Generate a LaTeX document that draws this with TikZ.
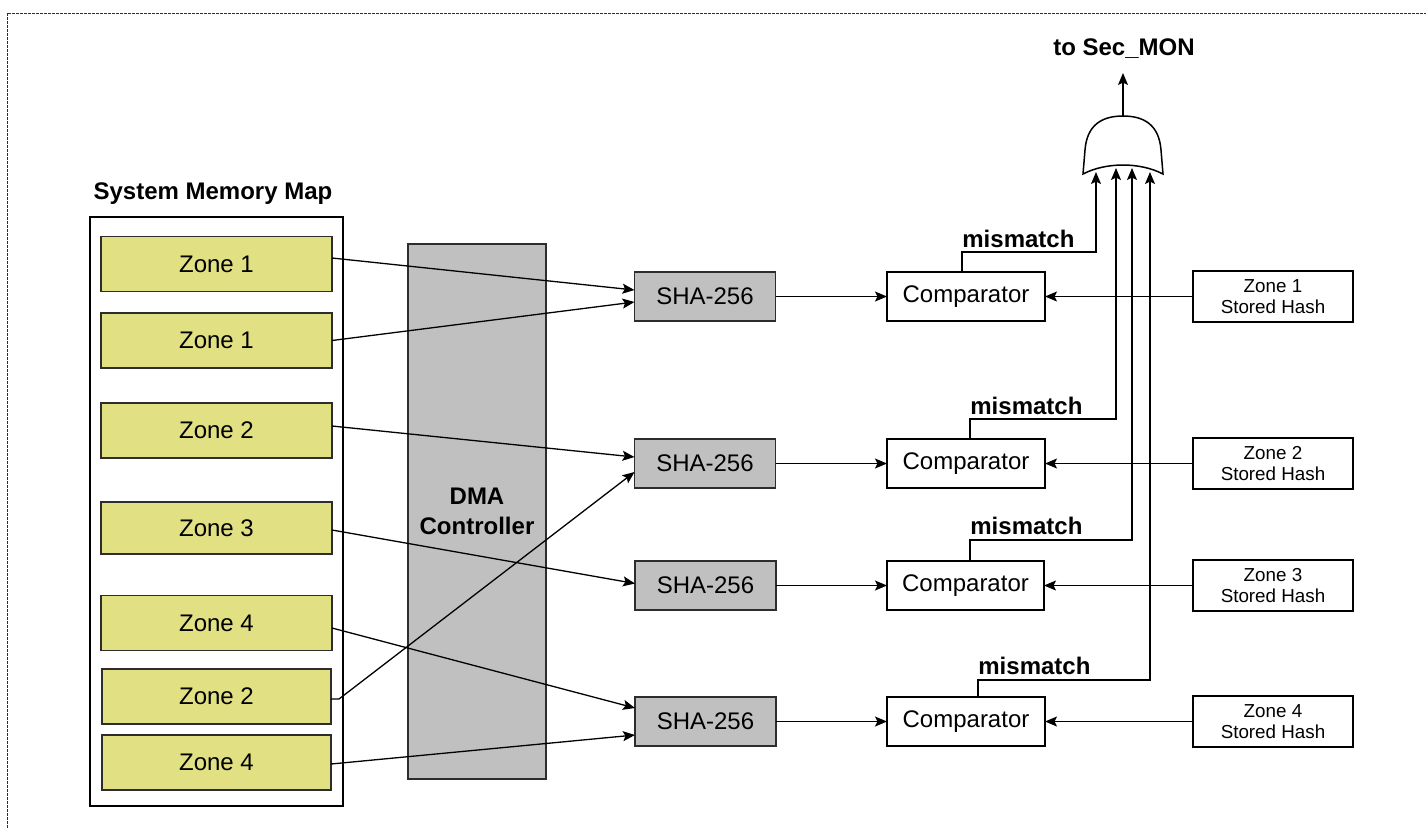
\documentclass[tikz,border=0pt]{standalone}
\usepackage{fontspec}
\setmainfont{Liberation Sans}
\usetikzlibrary{arrows.meta,calc}

\definecolor{zoneyellow}{RGB}{225,224,131}
\definecolor{blockgray}{RGB}{192,192,192}
\definecolor{edgegray}{RGB}{45,45,45}

\tikzset{
  box/.style={draw=edgegray, line width=0.75pt, inner sep=0pt, outer sep=0pt,
              font=\fontsize{12}{14}\selectfont, align=center},
  zonebox/.style={box, fill=zoneyellow, minimum width=115.5pt, minimum height=27.5pt},
  shabox/.style={box, fill=blockgray, minimum width=70.5pt, minimum height=24.5pt},
  compbox/.style={box, draw=black, fill=white, minimum width=79pt, minimum height=24.5pt},
  hashbox/.style={box, draw=black, fill=white, minimum width=80pt, minimum height=25.5pt,
              font=\fontsize{9.4}{10.6}\selectfont},
  boldlbl/.style={font=\bfseries\fontsize{12}{14}\selectfont, inner sep=0pt},
  link/.style={draw=black, line width=0.65pt},
  arr/.style={link, -{Stealth[length=6pt,width=5pt,inset=1.2pt]}},
}

\begin{document}
\begin{tikzpicture}[x=0.5pt, y=-0.5pt]
  \useasboundingbox (0,0) rectangle (1426,827);

  % outer dashed frame
  \draw[edgegray, line width=0.5pt, dash pattern=on 1.5pt off 0.5pt]
    (7,13) rectangle (1460,860);

  % memory map column
  \node[boldlbl] (memtitle) at (213,194) {System Memory Map};
  \node[box, draw=black, fill=white, minimum width=126.5pt, minimum height=294.5pt]
    (mem) at (216.5,511.5) {};
  \node[zonebox] (z1a) at (216.5,264)   {Zone 1};
  \node[zonebox] (z1b) at (216.5,340.5) {Zone 1};
  \node[zonebox] (z2)  at (216.5,430.5) {Zone 2};
  \node[zonebox, minimum height=26pt] (z3) at (216.5,528) {Zone 3};
  \node[zonebox] (z4)  at (216.5,623)   {Zone 4};
  \node[zonebox, minimum width=114.5pt] (z2b) at (216.5,696.5) {Zone 2};
  \node[zonebox, minimum width=114.5pt] (z4b) at (216.5,762.5) {Zone 4};

  % DMA controller
  \node[box, fill=blockgray, minimum width=69pt, minimum height=267.5pt,
        font=\bfseries\fontsize{12}{15}\selectfont] (dma) at (477,511.5) {DMA\\Controller};

  % hash engines
  \node[shabox] (sha1) at (705,296.5) {SHA-256};
  \node[shabox] (sha2) at (705,463.5) {SHA-256};
  \node[shabox] (sha3) at (705.5,585.5) {SHA-256};
  \node[shabox] (sha4) at (705.5,721.5) {SHA-256};

  % comparators
  \node[compbox] (comp1) at (966,296.5) {Comparator};
  \node[compbox] (comp2) at (966,463.5) {Comparator};
  \node[compbox, minimum width=78.5pt] (comp3) at (965.5,585.5) {Comparator};
  \node[compbox] (comp4) at (966,721.5) {Comparator};

  % stored reference hashes
  \node[hashbox] (hash1) at (1273,296.5) {Zone 1\\Stored Hash};
  \node[hashbox] (hash2) at (1273,463.5) {Zone 2\\Stored Hash};
  \node[hashbox] (hash3) at (1273,585.5) {Zone 3\\Stored Hash};
  \node[hashbox] (hash4) at (1273,721.5) {Zone 4\\Stored Hash};

  % zones to hash engines
  \draw[arr] ($(z1a.east)+(0,-6)$) -- ($(sha1.west)+(0,-6.5)$);
  \draw[arr] (z1b.east) -- ($(sha1.west)+(0,5.5)$);
  \draw[arr] ($(z2.east)+(0,-4.5)$) -- ($(sha2.west)+(0,-6.5)$);
  \draw[arr] ($(z2b.east)+(0,2.5)$) -- ++(8,0) -- ($(sha2.west)+(0,8.5)$);
  \draw[arr] ($(z3.east)+(0,2)$) -- ($(sha3.west)+(0,-2)$);
  \draw[arr] ($(z4.east)+(0,5)$) -- ($(sha4.west)+(0,-13.5)$);
  \draw[arr] ($(z4b.east)+(0,1.5)$) -- ($(sha4.west)+(0,13.5)$);

  % hash engines to comparators, stored hashes to comparators
  \foreach \i in {1,2,3,4} {
    \draw[arr] (sha\i.east) -- (comp\i.west);
    \draw[arr] (hash\i.west) -- (comp\i.east);
  }

  % OR gate collecting the mismatch flags
  \draw[black, line width=0.75pt, fill=white]
    (1083,174) -- (1085,150)
    .. controls (1087,124) and (1103,116) .. (1123,116)
    .. controls (1143,116) and (1159,124) .. (1161,150)
    -- (1163,174)
    .. controls (1140,162) and (1106,162) .. (1083,174) -- cycle;
  \coordinate (gout) at (1123,116);
  \coordinate (g1) at (1096,172);
  \coordinate (g2) at (1116,168);
  \coordinate (g3) at (1132,168);
  \coordinate (g4) at (1150,172);
  \coordinate (secin) at (1123,73);
  \node[boldlbl] (secmon) at (1124,49) {to Sec\_MON};
  \draw[arr] (gout) -- (secin);

  % mismatch lines
  \draw[arr] ($(comp1.north)+(-4,0)$) -- ++(0,-20) -| (g1);
  \draw[arr] ($(comp2.north)+(4,0)$) -- ++(0,-20) -| (g2);
  \draw[arr] ($(comp3.north)+(4.5,0)$) -- ++(0,-21) -| (g3);
  \draw[arr] ($(comp4.north)+(12,0)$) -- ++(0,-17) -| (g4);

  \node[boldlbl, anchor=base west] (mm1) at ($(comp1.north)+(-4,-25)$) {mismatch};
  \node[boldlbl, anchor=base west] (mm2) at ($(comp2.north)+(4,-25)$) {mismatch};
  \node[boldlbl, anchor=base west] (mm3) at ($(comp3.north)+(4.5,-27)$) {mismatch};
  \node[boldlbl, anchor=base west] (mm4) at ($(comp4.north)+(12,-23)$) {mismatch};
\end{tikzpicture}
\end{document}
